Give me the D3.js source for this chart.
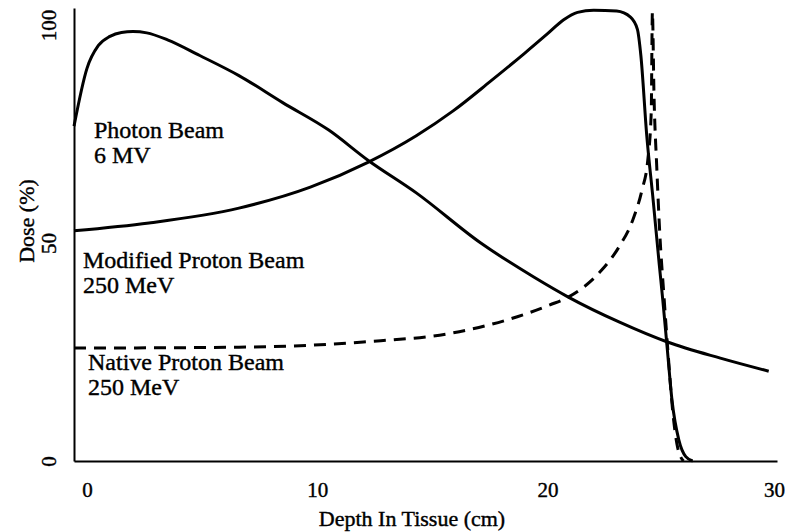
<!DOCTYPE html>
<html>
<head>
<meta charset="utf-8">
<script src="https://cdn.jsdelivr.net/npm/d3@7"></script>
<style>
  html, body { margin: 0; padding: 0; background: #fff; }
  svg { display: block; }
</style>
</head>
<body>
<div id="DoseChart"></div>
<script>
// Tick values
const xTicks = [0, 10, 20, 30];
const yTicks = [0, 50, 100];

// Photon beam 6 MV (solid)
const photonDepth = [-0.56, 0, 0.5, 1.0, 1.5, 2.0, 2.6, 3.5, 4.9, 6.6, 8.5, 10.5, 12.2, 14.3, 17.1, 19.4, 20.9, 23.1, 25.2, 27.5, 29.6];
const photonDose  = [76.8, 90.0, 95.3, 97.4, 98.3, 98.5, 98.2, 96.6, 93.0, 88.4, 82.2, 75.9, 69.0, 61.5, 50.0, 42.2, 37.6, 31.9, 27.3, 23.6, 20.6];

// Modified proton beam 250 MeV (solid, spread-out peak)
const modDepth = [-0.56, 2.7, 6.6, 9.7, 12.2, 14.3, 15.9, 17.5, 19.0, 20.0, 20.7, 21.3, 22.0, 23.0, 23.6, 23.9, 24.05, 24.3, 24.58, 24.85, 25.0, 25.2, 25.4, 25.7, 26.0, 26.3];
const modDose  = [52.8, 54.6, 58.0, 62.8, 68.5, 74.6, 80.3, 87.0, 93.5, 98.0, 101.2, 102.9, 103.4, 103.2, 101.8, 99.0, 93.0, 75.0, 60.0, 45.0, 37.0, 25.5, 14.0, 4.8, 1.0, 0];

// Native proton beam 250 MeV (dashed, Bragg peak)
const natDepth = [-0.56, 6.6, 12.0, 15.9, 18.2, 20.1, 20.9, 22.3, 23.1, 23.7, 24.1, 24.35, 24.5, 24.55, 24.62, 24.74, 24.87, 25.05, 25.22, 25.44, 25.65, 25.9];
const natDose  = [25.9, 26.1, 27.3, 29.4, 32.3, 35.8, 37.6, 43.5, 49.1, 55.3, 62.2, 69.0, 80.0, 103.0, 84.0, 67.4, 52.3, 38.0, 25.5, 11.0, 3.0, 0];

// Curve labels
const labelLines = [
  ["Photon Beam", "6 MV"],
  ["Modified Proton Beam", "250 MeV"],
  ["Native Proton Beam", "250 MeV"]
];

const width = 785, height = 532;
const font = "'Liberation Serif', 'Times New Roman', serif";

const svg = d3.select("#DoseChart")
  .append("svg")
  .attr("width", width)
  .attr("height", height);

const x = d3.scaleLinear().domain([-0.56, 29.96]).range([74, 777]);
const y = d3.scaleLinear().domain([0, 103.9]).range([461, 8]);

// Axes (no tick marks, only the lines and labels)
const xAxis = svg.append("g")
  .attr("transform", `translate(0,${y(0)})`)
  .call(d3.axisBottom(x).tickValues(xTicks).tickSize(0).tickSizeOuter(0));
xAxis.select(".domain").attr("stroke", "#000").attr("stroke-width", 2);
xAxis.selectAll("text")
  .attr("y", 36)
  .attr("dy", 0)
  .attr("dx", d => d === 30 ? -4 : 0)
  .style("font-family", font)
  .style("font-size", "21px")
  .attr("fill", "#000")
  .attr("stroke", "#000")
  .attr("stroke-width", 0.4);

const yAxis = svg.append("g")
  .attr("transform", `translate(${x(-0.56)},0)`)
  .call(d3.axisLeft(y).tickValues(yTicks).tickSize(0).tickSizeOuter(0));
yAxis.select(".domain").attr("stroke", "#000").attr("stroke-width", 2);
yAxis.selectAll("text")
  .attr("x", 0)
  .attr("dy", 0)
  .attr("text-anchor", "middle")
  .attr("transform", "translate(-18,0) rotate(-90)")
  .style("font-family", font)
  .style("font-size", "21px")
  .attr("fill", "#000")
  .attr("stroke", "#000")
  .attr("stroke-width", 0.4);

// Axis titles
svg.append("text")
  .attr("x", 412)
  .attr("y", 526)
  .attr("text-anchor", "middle")
  .style("font-family", font)
  .style("font-size", "22px")
  .attr("stroke", "#000")
  .attr("stroke-width", 0.4)
  .text("Depth In Tissue (cm)");

svg.append("text")
  .attr("transform", "translate(34,221) rotate(-90)")
  .attr("text-anchor", "middle")
  .style("font-family", font)
  .style("font-size", "22px")
  .attr("stroke", "#000")
  .attr("stroke-width", 0.4)
  .text("Dose (%)");

// Curves
const line = d3.line()
  .x(d => x(d[0]))
  .y(d => y(d[1]))
  .curve(d3.curveMonotoneX);

const series = [
  { depth: photonDepth, dose: photonDose, dash: null },
  { depth: modDepth, dose: modDose, dash: null },
  { depth: natDepth, dose: natDose, dash: "12,8" }
];

svg.selectAll(".curve")
  .data(series)
  .enter()
  .append("path")
  .classed("curve", true)
  .attr("d", s => line(d3.zip(s.depth, s.dose)))
  .attr("fill", "none")
  .attr("stroke", "#000")
  .attr("stroke-width", 3)
  .attr("stroke-dasharray", s => s.dash);

// Curve labels
const labelPos = [[94, 138], [83, 268], [88, 370]];
labelLines.forEach((lines, i) => {
  const t = svg.append("text")
    .style("font-family", font)
    .style("font-size", "24px")
    .attr("fill", "#000")
    .attr("stroke", "#000")
    .attr("stroke-width", 0.4);
  lines.forEach((ln, j) => {
    t.append("tspan")
      .attr("x", labelPos[i][0])
      .attr("y", labelPos[i][1] + j * 25)
      .text(ln);
  });
});
</script>
</body>
</html>
